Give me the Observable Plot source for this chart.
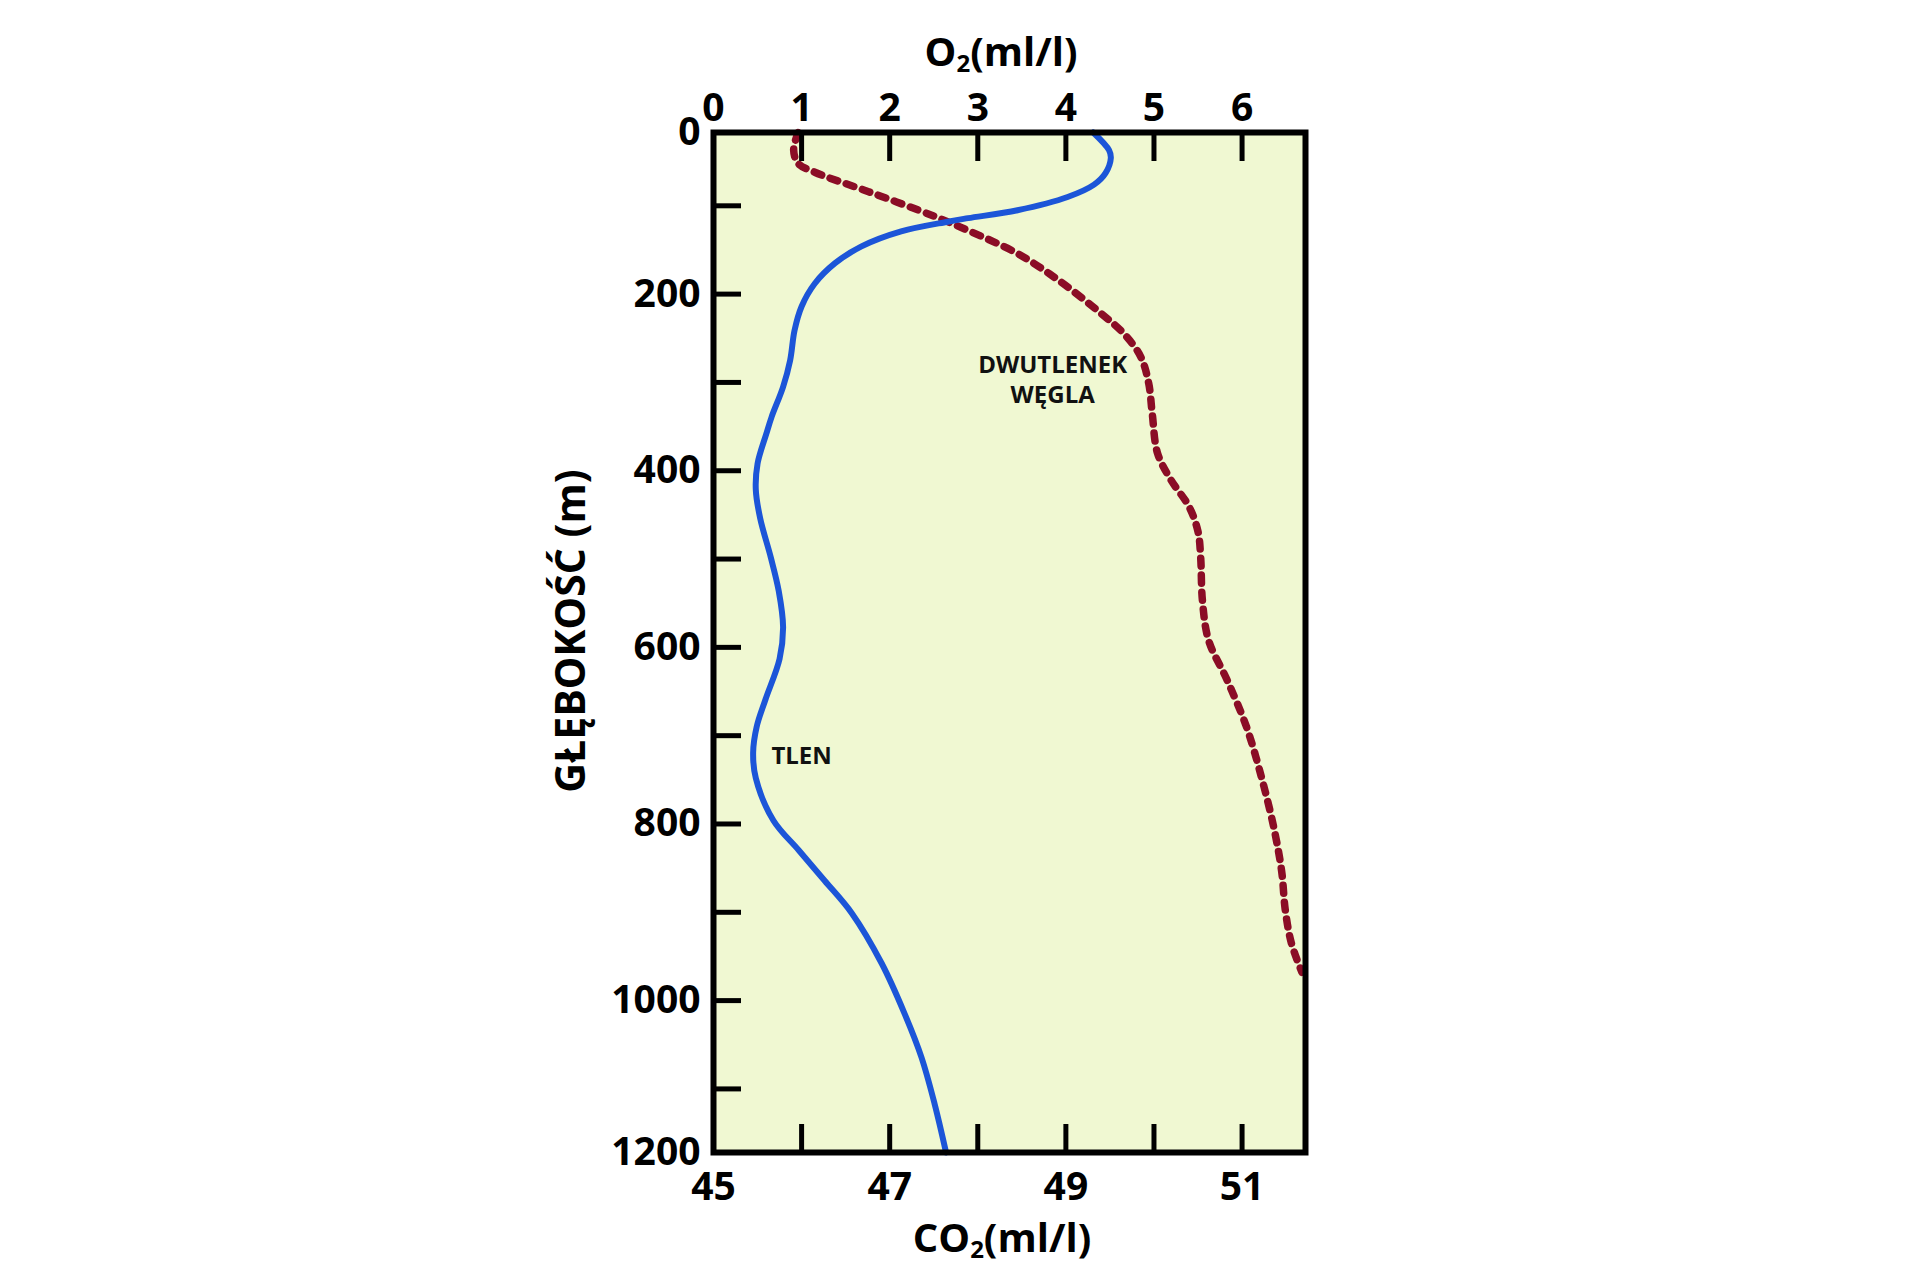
<!DOCTYPE html>
<html>
<head>
<meta charset="utf-8">
<script src="https://cdn.jsdelivr.net/npm/d3@7"></script>
<script src="https://cdn.jsdelivr.net/npm/@observablehq/plot@0.6"></script>
<style>
  html, body { margin: 0; padding: 0; background: #ffffff; }
  #chart { width: 1920px; height: 1280px; }
</style>
</head>
<body>
<div id="chart"></div>
<script>
// ---- Data ----
// Oxygen profile: depth (m) and O2 (ml/l)
const o2Depth  = [0, 37, 46, 63, 76, 90, 105, 114, 118, 129, 146, 165, 188, 214, 241, 275, 305, 339, 358, 392, 421, 454, 498, 536, 577, 613, 659, 690, 719, 748, 796, 830, 864, 901, 958, 1015, 1064, 1117, 1200];
const o2Values = [4.31, 4.49, 4.51, 4.45, 4.32, 4.02, 3.45, 2.89, 2.66, 2.13, 1.68, 1.38, 1.15, 1.00, 0.92, 0.87, 0.79, 0.66, 0.60, 0.50, 0.48, 0.53, 0.65, 0.74, 0.79, 0.75, 0.59, 0.49, 0.45, 0.48, 0.68, 0.97, 1.26, 1.57, 1.91, 2.17, 2.36, 2.51, 2.64];

// Carbon dioxide profile: depth (m) and CO2 (ml/l)
const co2Depth  = [0, 37, 52, 62, 84, 112, 128, 154, 186, 222, 245, 271, 301, 335, 380, 410, 441, 469, 498, 547, 592, 637, 690, 747, 804, 854, 897, 935, 968];
const co2Values = [45.96, 45.91, 45.96, 46.15, 46.76, 47.51, 47.89, 48.45, 48.94, 49.40, 49.66, 49.85, 49.94, 49.98, 50.04, 50.19, 50.40, 50.50, 50.53, 50.55, 50.62, 50.83, 51.05, 51.22, 51.36, 51.45, 51.49, 51.56, 51.68];

// Axes
const o2Domain        = [0, 6.72];
const co2Offset       = 45;          // CO2 value that sits at O2 = 0 on the shared horizontal axis
const o2Ticks         = [0, 1, 2, 3, 4, 5, 6];
const co2Ticks        = [46, 47, 48, 49, 50, 51];
const co2TickLabels   = [45, 47, 49, 51];
const depthDomain     = [17, 1172];  // depth range covered by the frame; 0 and 1200 sit on its edges
const depthTicks      = [100, 200, 300, 400, 500, 600, 700, 800, 900, 1000, 1100];
const depthTickLabels = [0, 200, 400, 600, 800, 1000, 1200];

// Texts
const topTitle    = ["O", "2", "(ml/l)"];
const bottomTitle = ["CO", "2", "(ml/l)"];
const leftTitle   = "GŁĘBOKOŚĆ (m)";
const labels = [
  {text: "DWUTLENEK\nWĘGLA", o2: 3.85, depth: 296},
  {text: "TLEN", o2: 1.0, depth: 721}
];

// ---- Chart ----
const FONT = "'Open Sans', 'Noto Sans', sans-serif";
const o2Data  = o2Depth.map((d, i) => ({depth: d, value: o2Values[i]}));
const co2Data = co2Depth.map((d, i) => ({depth: d, value: co2Values[i]}));

const tickStyle = {stroke: "#000", strokeWidth: 5, fill: "none", label: null};
const textStyle = {tickSize: 0, fontSize: 39, fontWeight: 700, fill: "#000", label: null};

const plot = Plot.plot({
  width: 1920,
  height: 1280,
  marginLeft: 713,
  marginRight: 615,
  marginTop: 132,
  marginBottom: 128,
  style: {fontFamily: FONT, background: "#ffffff", overflow: "visible"},
  x: {domain: o2Domain},
  y: {domain: depthDomain, reverse: true, clamp: true},
  marks: [
    Plot.frame({fill: "#f0f8d2", stroke: null}),
    Plot.line(co2Data, {x: d => d.value - co2Offset, y: "depth", curve: "catmull-rom",
      stroke: "#8b0d26", strokeWidth: 7.5, strokeDasharray: "8 9"}),
    Plot.line(o2Data, {x: "value", y: "depth", curve: "catmull-rom",
      stroke: "#1c55d8", strokeWidth: 6}),
    Plot.text(labels, {x: "o2", y: "depth", text: "text", fontSize: 24, fontWeight: 700,
      lineHeight: 1.25, fill: "#111"}),
    // top O2 axis
    Plot.axisX(o2Ticks, {anchor: "top", tickSize: -28, ...tickStyle}),
    Plot.axisX(o2Ticks, {anchor: "top", tickPadding: 12, ...textStyle}),
    // bottom CO2 axis (shares the horizontal scale, shifted by co2Offset)
    Plot.axisX(co2Ticks.map(c => c - co2Offset), {anchor: "bottom", tickSize: -28, ...tickStyle}),
    Plot.axisX(co2TickLabels.map(c => c - co2Offset), {anchor: "bottom", tickPadding: 20,
      tickFormat: d => String(Math.round(d + co2Offset)), ...textStyle}),
    // depth axis
    Plot.axisY(depthTicks, {anchor: "left", tickSize: -28, ...tickStyle}),
    Plot.axisY(depthTickLabels, {anchor: "left", tickPadding: 13, tickFormat: d => String(d), ...textStyle}),
    Plot.frame({stroke: "#000", strokeWidth: 6})
  ]
});

const svg = d3.select(plot);
function subTitle(x, y, parts) {
  const t = svg.append("text")
    .attr("x", x).attr("y", y)
    .attr("text-anchor", "middle")
    .attr("font-family", FONT).attr("font-size", 40).attr("font-weight", 700)
    .attr("fill", "#000");
  t.append("tspan").text(parts[0]);
  t.append("tspan").attr("font-size", 24).attr("dy", 6).text(parts[1]);
  t.append("tspan").attr("dy", -6).text(parts[2]);
}
subTitle(1001, 66, topTitle);
subTitle(1002, 1252, bottomTitle);
svg.append("text")
  .attr("transform", "translate(585,631) rotate(-90)")
  .attr("text-anchor", "middle")
  .attr("font-family", FONT).attr("font-size", 41).attr("font-weight", 700)
  .attr("fill", "#000")
  .text(leftTitle);

document.getElementById("chart").appendChild(plot);
</script>
</body>
</html>
